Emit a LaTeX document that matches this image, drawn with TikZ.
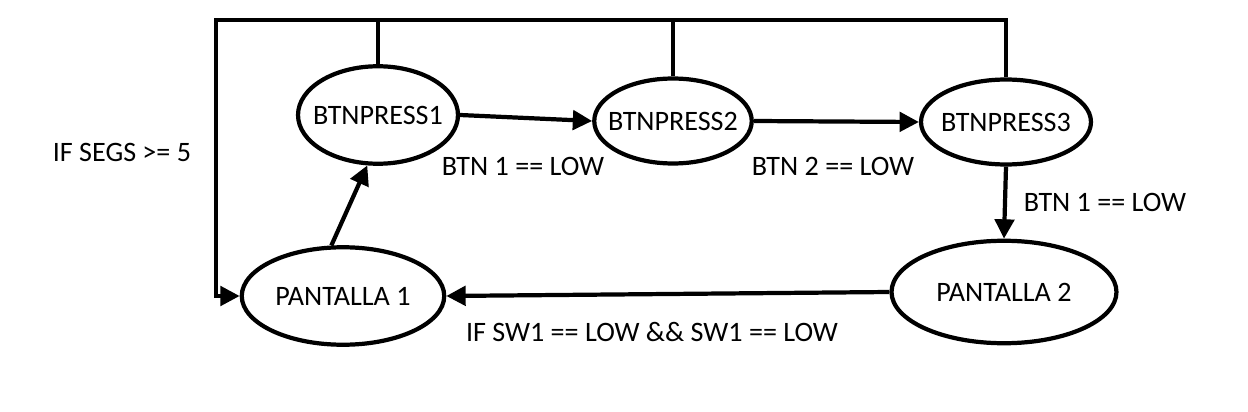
\documentclass[tikz,border=0pt]{standalone}
\usepackage{fontspec}
\setmainfont{Carlito}
\usetikzlibrary{shapes.geometric,arrows.meta,positioning}

\begin{document}
\begin{tikzpicture}[
    x=0.02cm, y=-0.02cm,
    >={Triangle[length=11pt,width=11pt]},
    state/.style={draw=black, line width=2.4pt, ellipse, inner xsep=-6pt, inner ysep=0pt, font=\fontsize{16}{19}\selectfont},
    trans/.style={->, line width=2.4pt, black},
    wire/.style={line width=2.4pt, black},
    cond/.style={font=\fontsize{16}{19}\selectfont, inner sep=0pt}
]
\useasboundingbox (0,0) rectangle (1248,412);

% ==================== STATES ====================
\node[state, minimum width=3.2cm, minimum height=1.95cm] (bp1) at (378,115) {BTNPRESS1};
\node[state, minimum width=3.15cm, minimum height=1.7cm] (bp2) at (673,121) {BTNPRESS2};
\node[state, minimum width=3.4cm, minimum height=1.7cm] (bp3) at (1006,122) {BTNPRESS3};
\node[state, minimum width=4.05cm, minimum height=1.95cm] (p1) at (343,296) {PANTALLA 1};
\node[state, minimum width=4.5cm, minimum height=2.05cm] (p2) at (1004,292) {PANTALLA 2};

% Corner of the reset loop
\coordinate (tl) at (216,20);

% ==================== TRANSITIONS ====================

% Button sequence
\draw[trans] (bp1.east) -- (bp2.west);
\draw[trans] (bp2.east) -- (bp3.west);
\draw[trans] (bp3.south) -- (p2.north);

% PANTALLA 2 back to PANTALLA 1
\draw[trans] (p2.west) -- (p1.east);

% PANTALLA 1 to BTNPRESS1
\draw[trans] (p1.103) -- (bp1.258);

% Timeout loop over the top
\draw[trans] (bp3.north) |- (tl) |- (p1.west);
\draw[wire] (bp1.north) -- (bp1.north |- tl);
\draw[wire] (bp2.north) -- (bp2.north |- tl);

% ==================== CONDITIONS ====================
\node[cond] (c0) at (122,152) {IF SEGS >= 5};
\node[cond] (c1) at (523,166) {BTN 1 == LOW};
\node[cond] (c2) at (833,166) {BTN 2 == LOW};
\node[cond] (c3) at (1105,202) {BTN 1 == LOW};
\node[cond] (c4) at (652,332) {IF SW1 == LOW \&\& SW1 == LOW};

\end{tikzpicture}
\end{document}
